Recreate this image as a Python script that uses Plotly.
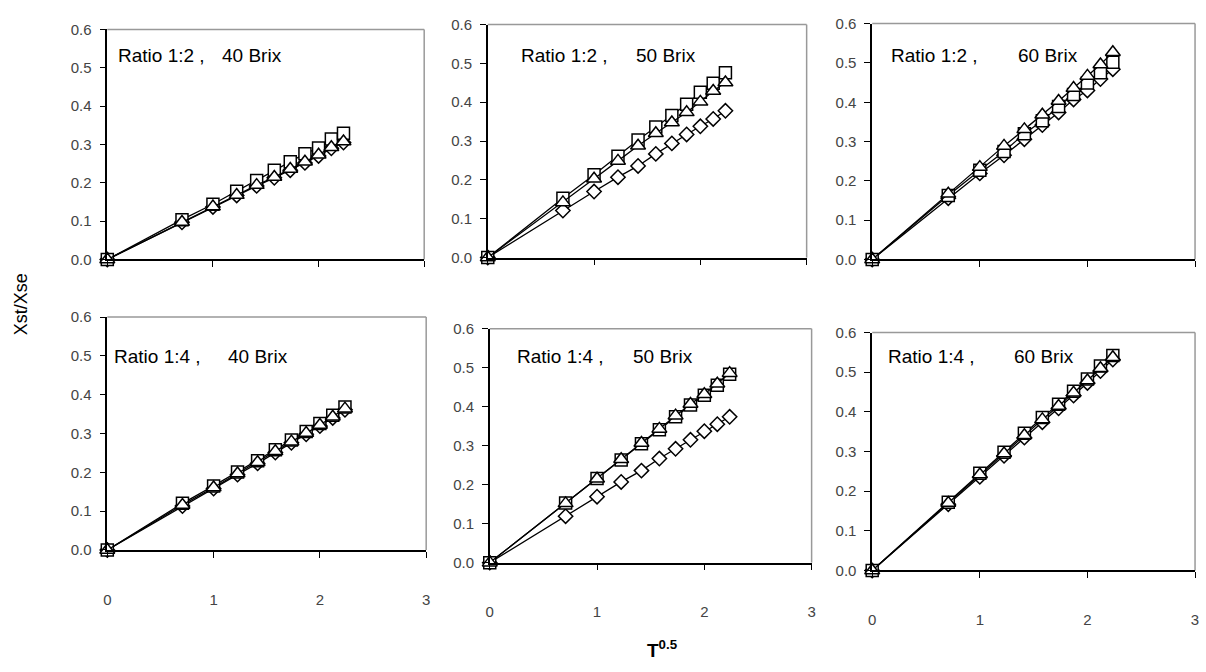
import plotly.graph_objects as go

W, H = 1206, 672

# sqrt(time) values
t_sqrt = [0, 0.707, 1.0, 1.225, 1.414, 1.581, 1.732, 1.871, 2.0, 2.121, 2.236]

# Ratio 1:2
r12_40_diamond = [0, 0.097, 0.137, 0.167, 0.192, 0.213, 0.233, 0.252, 0.270, 0.290, 0.305]
r12_40_square = [0, 0.104, 0.144, 0.178, 0.206, 0.233, 0.255, 0.276, 0.291, 0.314, 0.329]
r12_40_triangle = [0, 0.098, 0.138, 0.168, 0.194, 0.215, 0.236, 0.255, 0.273, 0.293, 0.308]

r12_50_diamond = [0, 0.121, 0.170, 0.207, 0.236, 0.267, 0.294, 0.317, 0.338, 0.357, 0.378]
r12_50_square = [0, 0.153, 0.213, 0.261, 0.303, 0.336, 0.366, 0.395, 0.426, 0.449, 0.476]
r12_50_triangle = [0, 0.142, 0.203, 0.249, 0.288, 0.320, 0.348, 0.374, 0.401, 0.429, 0.451]

r12_60_diamond = [0, 0.156, 0.219, 0.265, 0.306, 0.342, 0.374, 0.407, 0.430, 0.459, 0.484]
r12_60_square = [0, 0.163, 0.227, 0.275, 0.320, 0.353, 0.389, 0.420, 0.449, 0.475, 0.502]
r12_60_triangle = [0, 0.167, 0.235, 0.289, 0.331, 0.368, 0.403, 0.436, 0.467, 0.496, 0.527]

# Ratio 1:4
r14_40_diamond = [0, 0.113, 0.158, 0.194, 0.223, 0.251, 0.276, 0.298, 0.319, 0.340, 0.361]
r14_40_square = [0, 0.120, 0.165, 0.201, 0.230, 0.258, 0.283, 0.305, 0.326, 0.347, 0.368]
r14_40_triangle = [0, 0.116, 0.161, 0.197, 0.226, 0.254, 0.279, 0.301, 0.322, 0.343, 0.364]

r14_50_diamond = [0, 0.119, 0.169, 0.207, 0.236, 0.267, 0.292, 0.315, 0.337, 0.355, 0.374]
r14_50_square = [0, 0.153, 0.216, 0.263, 0.305, 0.341, 0.374, 0.404, 0.429, 0.455, 0.483]
r14_50_triangle = [0, 0.152, 0.215, 0.265, 0.307, 0.343, 0.377, 0.407, 0.432, 0.459, 0.486]

r14_60_diamond = [0, 0.167, 0.236, 0.289, 0.335, 0.374, 0.409, 0.441, 0.473, 0.503, 0.532]
r14_60_square = [0, 0.172, 0.245, 0.298, 0.346, 0.386, 0.419, 0.452, 0.483, 0.516, 0.542]
r14_60_triangle = [0, 0.170, 0.242, 0.295, 0.341, 0.381, 0.415, 0.448, 0.479, 0.510, 0.538]

panel_ratio = ["Ratio 1:2 ,", "Ratio 1:2 ,", "Ratio 1:2 ,", "Ratio 1:4 ,", "Ratio 1:4 ,", "Ratio 1:4 ,"]
panel_brix = ["40 Brix", "50 Brix", "60 Brix", "40 Brix", "50 Brix", "60 Brix"]
panel_series = [
    (r12_40_diamond, r12_40_square, r12_40_triangle),
    (r12_50_diamond, r12_50_square, r12_50_triangle),
    (r12_60_diamond, r12_60_square, r12_60_triangle),
    (r14_40_diamond, r14_40_square, r14_40_triangle),
    (r14_50_diamond, r14_50_square, r14_50_triangle),
    (r14_60_diamond, r14_60_square, r14_60_triangle),
]

x_ticks = [0, 1, 2, 3]
y_ticks = [0.0, 0.1, 0.2, 0.3, 0.4, 0.5, 0.6]
y_tick_labels = ["0.0", "0.1", "0.2", "0.3", "0.4", "0.5", "0.6"]

# layout (pixel boxes: x0, x1, ytop, ybottom)
boxes = [
    (104, 423, 21, 257),
    (487, 808, 16, 255),
    (874, 1199, 15, 257),
    (104, 425, 316, 555),
    (489, 813, 328, 568),
    (874, 1199, 332, 576),
]
label_pos = [
    (113, 217, 48), (518, 634, 48), (891, 1019, 48),
    (109, 223, 357), (514, 631, 357), (888, 1015, 357),
]

fig = go.Figure()
FONT = "Arial, Liberation Sans, sans-serif"
styles = [
    dict(symbol="diamond", size=11),
    dict(symbol="square", size=12),
    dict(symbol="triangle-up", size=13),
]

shapes = []
annotations = []
for i, (series, box) in enumerate(zip(panel_series, boxes)):
    n = i + 1
    xa = "x" if n == 1 else f"x{n}"
    ya = "y" if n == 1 else f"y{n}"
    for vals, st in zip(series, styles):
        fig.add_trace(go.Scatter(
            x=t_sqrt, y=vals, xaxis=xa, yaxis=ya, mode="lines+markers",
            line=dict(color="black", width=1.3),
            marker=dict(symbol=st["symbol"], size=st["size"], color="white",
                        line=dict(color="black", width=1.5)),
            cliponaxis=False, showlegend=False, hoverinfo="x+y",
        ))
    x0, x1, yt, yb = box
    bottom_row = i >= 3
    xkey = "xaxis" if n == 1 else f"xaxis{n}"
    ykey = "yaxis" if n == 1 else f"yaxis{n}"
    fig.layout[xkey] = dict(
        domain=[x0 / W, x1 / W], anchor=ya, range=[0, 3],
        tickvals=x_ticks, ticktext=[str(v) for v in x_ticks],
        showticklabels=bottom_row, ticks="outside", ticklen=6, tickwidth=1,
        tickcolor="black", showline=True, linecolor="black", linewidth=1.5,
        showgrid=False, zeroline=False, ticklabelstandoff=29,
        tickfont=dict(family=FONT, size=15, color="#444444"),
    )
    fig.layout[ykey] = dict(
        domain=[1 - yb / H, 1 - yt / H], anchor=xa, range=[0, 0.6],
        tickvals=y_ticks, ticktext=y_tick_labels,
        ticks="outside", ticklen=6, tickwidth=1, tickcolor="black",
        showline=True, linecolor="black", linewidth=1.5,
        showgrid=False, zeroline=False, ticklabelstandoff=5,
        tickfont=dict(family=FONT, size=15, color="#444444"),
    )
    # gray frame top & right
    shapes.append(dict(type="line", xref="paper", yref="paper",
                       x0=x0 / W, x1=x1 / W, y0=1 - yt / H, y1=1 - yt / H,
                       line=dict(color="#999999", width=1.5), layer="below"))
    shapes.append(dict(type="line", xref="paper", yref="paper",
                       x0=x1 / W, x1=x1 / W, y0=1 - yt / H, y1=1 - yb / H,
                       line=dict(color="#999999", width=1.5), layer="below"))
    ax, bx, ly = label_pos[i]
    annotations.append(dict(text=panel_ratio[i], xref="paper", yref="paper",
                            x=ax / W, y=1 - ly / H, xanchor="left", yanchor="middle",
                            showarrow=False, font=dict(family=FONT, size=19, color="black")))
    annotations.append(dict(text=panel_brix[i], xref="paper", yref="paper",
                            x=bx / W, y=1 - ly / H, xanchor="left", yanchor="middle",
                            showarrow=False, font=dict(family=FONT, size=19, color="black")))

annotations.append(dict(text="Xst/Xse", xref="paper", yref="paper",
                        x=17 / W, y=1 - 303 / H, xanchor="center", yanchor="middle",
                        textangle=-90, showarrow=False,
                        font=dict(family=FONT, size=18, color="black")))
annotations.append(dict(text="<b>T<sup>0.5</sup></b>", xref="paper", yref="paper",
                        x=663 / W, y=1 - 657 / H, xanchor="center", yanchor="middle",
                        showarrow=False, font=dict(family=FONT, size=19, color="black")))

fig.update_layout(
    width=W, height=H, margin=dict(l=0, r=0, t=0, b=0),
    paper_bgcolor="white", plot_bgcolor="white",
    shapes=shapes, annotations=annotations,
)

fig.write_html("out.html", config={"displayModeBar": False},
               post_script="document.body.style.margin='0';document.body.style.overflow='hidden';")
